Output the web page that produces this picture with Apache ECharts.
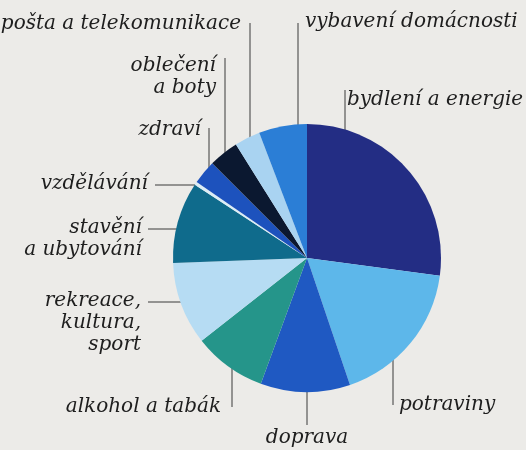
<!DOCTYPE html>
<html><head><meta charset="utf-8">
<script src="https://cdn.jsdelivr.net/npm/echarts@6/dist/echarts.min.js"></script>
<style>html,body{margin:0;padding:0;background:#ecebe8;}#c{width:526px;height:450px;}</style>
</head><body><div id="c"></div>
<script>
var categories = ['bydlení a energie','potraviny','doprava','alkohol a tabák','rekreace,\nkultura,\nsport','stavění\na ubytování','vzdělávání','zdraví','oblečení\na boty','pošta a telekomunikace','vybavení domácnosti'];
var shares = [27.1, 17.7, 10.8, 8.8, 10.0, 9.8, 0.4, 2.9, 3.6, 3.1, 5.8];
var colors = ['#232d84','#5db7ea','#1f59c2','#25958a','#b6dcf3','#0f6b8c','#dcedf6','#1d52bd','#0b1830','#a9d3f1','#2b7ed6'];

// label anchor and leader line points, by category index
var labelLayoutTable = [
  {x:347, y:100, align:'left',  line:[[345,140],[345,115],[345,90]]},
  {x:399, y:405, align:'left',  line:[[393,337],[393,370],[393,405]]},
  {x:307, y:438, align:'center',line:[[307,363],[307,395],[307,425]]},
  {x:221, y:407, align:'right', line:[[232,345],[232,375],[232,407]]},
  {x:141, y:323, align:'right', line:[[190,302],[170,302],[148,302]]},
  {x:142, y:239, align:'right', line:[[190,229],[170,229],[148,229]]},
  {x:148, y:184, align:'right', line:[[198,185],[175,185],[155,185]]},
  {x:201, y:130, align:'right', line:[[209,182],[209,155],[209,128]]},
  {x:216, y:77,  align:'right', line:[[225,153],[225,100],[225,58]]},
  {x:241, y:24,  align:'right', line:[[250,148],[250,80],[250,23]]},
  {x:305, y:22,  align:'left',  line:[[298,140],[298,80],[298,23]]}
];

var data = categories.map(function(n,i){return {name:n, value:shares[i], itemStyle:{color:colors[i]}};});
var chart = echarts.init(document.getElementById('c'));
chart.setOption({
  backgroundColor:'#ecebe8',
  animation:false,
  series:[{
    type:'pie',
    center:[307,258],
    radius:134,
    startAngle:90,
    clockwise:true,
    data:data,
    itemStyle:{borderWidth:0},
    label:{show:true, position:'outside', formatter:'{b}', color:'#1e1e1e', overflow:'none',
      fontFamily:'DejaVu Serif', fontStyle:'italic', fontSize:20, lineHeight:22},
    labelLine:{show:true, lineStyle:{color:'#3a3a3a', width:1}},
    labelLayout:function(p){
      var L = labelLayoutTable[p.dataIndex];
      return {x:L.x, y:L.y, align:L.align, verticalAlign:'middle', labelLinePoints:L.line};
    }
  }]
});
</script></body></html>
